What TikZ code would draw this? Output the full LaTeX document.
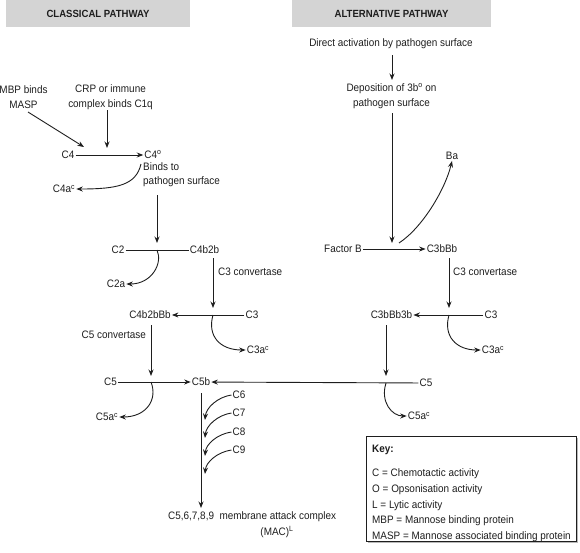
\documentclass[tikz,border=0pt]{standalone}
\usepackage{fontspec}
\setmainfont{Liberation Sans}[FakeStretch=0.92]
\usetikzlibrary{arrows.meta,shadows,calc}
\definecolor{hdr}{RGB}{212,212,212}
\definecolor{ink}{RGB}{30,30,30}
\begin{document}
\begin{tikzpicture}[x=1pt,y=-1pt,
  every node/.style={font=\fontsize{10.8}{14.5}\selectfont, text=ink, inner sep=1pt},
  hdrbox/.style={fill=hdr, draw=none, minimum height=27pt, font=\bfseries\fontsize{10.4}{12}\selectfont},
  arr/.style={-{Stealth[length=6.5pt,width=5pt]}, line width=0.9pt, draw=ink},
  ln/.style={line width=0.9pt, draw=ink},
  keytxt/.style={anchor=west}]
\useasboundingbox (0,0) rectangle (580,552);
% headers
\node[hdrbox, minimum width=184pt] (hc) at (98,13.5) {CLASSICAL PATHWAY};
\node[hdrbox, minimum width=199pt] (ha) at (391.5,13.5) {ALTERNATIVE PATHWAY};
% classical
\node[align=center] (mbp) at (23.5,97) {MBP binds\\MASP};
\node[align=center] (crp) at (110.5,97) {CRP or immune\\complex binds C1q};
\node (c4) at (68,155) {C4};
\node (c4o) at (153,155) {C4\textsuperscript{o}};
\node[align=left, anchor=north west] (binds) at (142,161) {Binds to\\pathogen surface};
\node (c4a) at (64,189) {C4a\textsuperscript{c}};
\node (c2) at (118,250) {C2};
\node (c4b2b) at (204.5,250) {C4b2b};
\node (c2a) at (116,284) {C2a};
\node[anchor=west] (cv3a) at (217,272) {C3 convertase};
\node (c4b2bbb) at (150,315) {C4b2bBb};
\node (c3l) at (252,315) {C3};
\node (c3al) at (258,350) {C3a\textsuperscript{c}};
\node[anchor=east] (cv5) at (147,335) {C5 convertase};
\node (c5l) at (110.5,382) {C5};
\node (c5b) at (201,382) {C5b};
\node (c5al) at (107,417) {C5a\textsuperscript{c}};
\node (c6) at (239,395) {C6};
\node (c7) at (239,413) {C7};
\node (c8) at (239,432) {C8};
\node (c9) at (239,450) {C9};
\node[anchor=west] (mac) at (167,517) {C5,6,7,8,9\ \ membrane attack complex};
\node (mac2) at (277,532) {(MAC)\textsuperscript{L}};
% alternative
\node (dap) at (391,44) {Direct activation by pathogen surface};
\node[align=center] (dep) at (391.5,96) {Deposition of 3b\textsuperscript{o} on\\pathogen surface};
\node (ba) at (452,156) {Ba};
\node (fb) at (343,249) {Factor B};
\node (c3bbb) at (442,249) {C3bBb};
\node[anchor=west] (cv3b) at (452,272) {C3 convertase};
\node (c3bbb3b) at (391.5,315) {C3bBb3b};
\node (c3r) at (491,315) {C3};
\node (c3ar) at (493,350) {C3a\textsuperscript{c}};
\node (c5r) at (426,383) {C5};
\node (c5ar) at (419,416) {C5a\textsuperscript{c}};
% key
\node[draw=ink, line width=0.8pt, fill=white, minimum width=210pt, minimum height=105pt,
      drop shadow={shadow xshift=2pt, shadow yshift=-2pt, fill=black!35, opacity=0.8}] (key) at (471,488.5) {};
\node[keytxt, font=\bfseries\fontsize{10.8}{13}\selectfont] (k0) at (371,450) {Key:};
\node[keytxt] (k1) at (371,474) {C = Chemotactic activity};
\node[keytxt] (k2) at (371,490) {O = Opsonisation activity};
\node[keytxt] (k3) at (371,505.5) {L = Lytic activity};
\node[keytxt] (k4) at (371,521) {MBP = Mannose binding protein};
\node[keytxt] (k5) at (371,537) {MASP = Mannose associated binding protein};
% junction coordinates
\coordinate (jm) at (84,147);
\coordinate (jc) at (107,148);
\coordinate (jb1) at (157,195);
\coordinate (jb2) at (157,243);
\coordinate (j2) at (157,250);
\coordinate (j3a) at (213,258);
\coordinate (j3b) at (213,308);
\coordinate (j3) at (213,315);
\coordinate (j5a) at (151,325);
\coordinate (j5b) at (151,376);
\coordinate (j5) at (151,382);
\coordinate (jv1) at (201,393);
\coordinate (jv2) at (201,508);
\coordinate (ja1) at (392,55);
\coordinate (ja2) at (392,80);
\coordinate (ja3) at (392,113);
\coordinate (ja4) at (392,243);
\coordinate (jba) at (399,243);
\coordinate (jr3a) at (449,258);
\coordinate (jr3b) at (449,308);
\coordinate (jr3) at (449,315);
\coordinate (jr5a) at (386,325);
\coordinate (jr5b) at (386,376);
\coordinate (jr5) at (386,383);
\coordinate (jc4) at (141,164);
% classical connectors
\draw[arr] (28,112) -- (jm);
\draw[arr] (crp.south -| jc) -- (jc);
\draw[arr] (c4) -- (c4o);
\draw[arr] (jc4) .. controls (136,185) and (118,189) .. (c4a.east);
\draw[arr] (jb1) -- (jb2);
\draw[ln] (c2) -- (c4b2b);
\draw[arr] (j2) .. controls (163,263) and (152,284) .. (c2a.east);
\draw[arr] (j3a) -- (j3b);
\draw[arr] (c3l) -- (c4b2bbb);
\draw[arr] (j3) .. controls (207,336) and (220,350) .. (c3al.west);
\draw[arr] (j5a) -- (j5b);
\draw[arr] (c5l) -- (c5b);
\draw[arr] (j5) .. controls (158,400) and (146,417) .. (c5al.east);
\draw[arr] (jv1) -- (jv2);
\foreach \n/\ty in {c6/420,c7/438,c8/456,c9/474}{
  \draw[arr] (\n.west) .. controls ($(\n.west)+(-14,2)$) and (206,\ty-12) .. (205,\ty);
}
% alternative connectors
\draw[arr] (ja1) -- (ja2);
\draw[arr] (ja3) -- (ja4);
\draw[arr] (jba) .. controls (422,228) and (445,190) .. (ba.south);
\draw[arr] (fb) -- (c3bbb);
\draw[arr] (jr3a) -- (jr3b);
\draw[arr] (c3r) -- (c3bbb3b);
\draw[arr] (jr3) .. controls (443,336) and (456,350) .. (c3ar.west);
\draw[arr] (jr5a) -- (jr5b);
\draw[arr] (c5r) -- (c5b);
\draw[arr] (jr5) .. controls (380,402) and (392,416) .. (c5ar.west);
\end{tikzpicture}
\end{document}
